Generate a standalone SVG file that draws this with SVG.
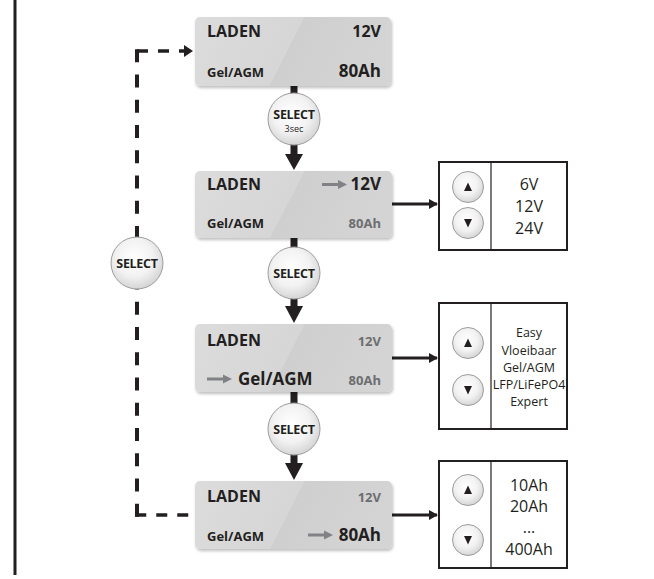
<svg xmlns="http://www.w3.org/2000/svg" width="654" height="579" viewBox="0 0 654 579">
<style>
  text { font-family: "Open Sans", "Liberation Sans", sans-serif; fill: #231f20; }
  .lcd { fill: url(#lcdGrad); filter: url(#sh); }
  .lab16 { font-size: 16px; font-weight: 700; }
  .big { font-size: 17px; font-weight: 700; }
  .sm { font-size: 13px; font-weight: 700; }
  .grey { fill: #6d6e70; }
  .end { text-anchor: end; }
  .btn { fill: url(#btnGrad); stroke: #9d9d9d; stroke-width: 1; }
  .sel { font-size: 12.5px; font-weight: 700; text-anchor: middle; letter-spacing: -0.3px; }
  .panel { fill: #ffffff; stroke: #231f20; stroke-width: 2; }
  .div { stroke: #231f20; stroke-width: 1.2; }
  .opt { font-size: 16px; text-anchor: middle; }
  .opt2 { font-size: 12.5px; text-anchor: middle; }
  .dash { fill: none; stroke: #231f20; stroke-width: 3.5; stroke-dasharray: 11 10; }
  .vd { fill: #231f20; }
  .thin { fill: none; stroke: #231f20; stroke-width: 3; }
  .garr { stroke: #808285; stroke-width: 3; fill: none; }
</style>
<defs>
  <linearGradient id="lcdGrad" x1="0" y1="0" x2="1" y2="0.177">
    <stop offset="0" stop-color="#dcdcdd"/>
    <stop offset="0.54" stop-color="#d6d6d7"/>
    <stop offset="0.541" stop-color="#cfcfd0"/>
    <stop offset="1" stop-color="#d4d4d5"/>
  </linearGradient>
  <radialGradient id="btnGrad" cx="0.45" cy="0.4" r="0.65">
    <stop offset="0" stop-color="#ffffff"/>
    <stop offset="0.55" stop-color="#f2f2f2"/>
    <stop offset="1" stop-color="#cfcfcf"/>
  </radialGradient>
  <filter id="sh" x="-5%" y="-10%" width="115%" height="130%">
    <feDropShadow dx="1" dy="2" stdDeviation="1.5" flood-color="#000" flood-opacity="0.25"/>
  </filter>
  <marker id="ah" markerWidth="10" markerHeight="10" refX="8" refY="5" orient="auto" markerUnits="userSpaceOnUse">
    <path d="M0,0 L9,5 L0,10 Z" fill="#231f20"/>
  </marker>
  <marker id="ahd" markerWidth="10" markerHeight="12" refX="2" refY="6" orient="auto" markerUnits="userSpaceOnUse">
    <path d="M0,0 L9,6 L0,12 Z" fill="#231f20"/>
  </marker>
</defs>

<rect x="13.5" y="0" width="3" height="575" fill="#231f20"/>

<g id="connectors">
  <!-- dashed loop -->
  <path class="dash" d="M137,51 H186" marker-end="url(#ahd)"/>
  <g class="vd">
    <rect x="135" y="49.25" width="4" height="13"/>
    <rect x="135" y="74.5" width="4" height="13"/>
    <rect x="135" y="99.75" width="4" height="13"/>
    <rect x="135" y="125" width="4" height="13"/>
    <rect x="135" y="150.25" width="4" height="13"/>
    <rect x="135" y="175.5" width="4" height="13"/>
    <rect x="135" y="200.75" width="4" height="13"/>
    <rect x="135" y="226" width="4" height="13"/>
    <rect x="135" y="289" width="4" height="0.5"/>
    <rect x="135" y="301.75" width="4" height="13"/>
    <rect x="135" y="327" width="4" height="13"/>
    <rect x="135" y="352.25" width="4" height="13"/>
    <rect x="135" y="377.5" width="4" height="13"/>
    <rect x="135" y="402.75" width="4" height="13"/>
    <rect x="135" y="428" width="4" height="13"/>
    <rect x="135" y="453.25" width="4" height="13"/>
    <rect x="135" y="478.5" width="4" height="13"/>
    <rect x="135" y="503.75" width="4" height="13"/>
  </g>
  <path class="dash" d="M135.25,515 H195"/>
  <!-- vertical thick connectors -->
  <rect x="290.5" y="86" width="7" height="8" fill="#231f20"/>
  <rect x="290.5" y="143" width="7" height="12" fill="#231f20"/>
  <path d="M285,154 H303 L294,170 Z" fill="#231f20"/>
  <rect x="290.5" y="238" width="7" height="10" fill="#231f20"/>
  <rect x="290.5" y="297" width="7" height="10" fill="#231f20"/>
  <path d="M285,306 H303 L294,323 Z" fill="#231f20"/>
  <rect x="290.5" y="392" width="7" height="12" fill="#231f20"/>
  <rect x="290.5" y="454" width="7" height="10" fill="#231f20"/>
  <path d="M285,463 H303 L294,480 Z" fill="#231f20"/>
  <!-- horizontal arrows to panels -->
  <path class="thin" d="M392,204 H437" marker-end="url(#ah)"/>
  <path class="thin" d="M392,358 H437" marker-end="url(#ah)"/>
  <path class="thin" d="M392,515 H437" marker-end="url(#ah)"/>
</g>

<g id="lcd1">
  <rect class="lcd" x="195" y="17" width="196" height="69" rx="5"/>
  <text class="lab16" x="207" y="37">LADEN</text>
  <text class="lab16 end" x="381" y="37">12V</text>
  <text class="sm" x="207" y="77">Gel/AGM</text>
  <text class="big end" x="381" y="77">80Ah</text>
</g>

<g id="select1">
  <circle class="btn" cx="294" cy="119" r="26"/>
  <text class="sel" x="294" y="118.5">SELECT</text>
  <text x="294" y="131.5" font-size="9" text-anchor="middle">3sec</text>
</g>

<g id="lcd2">
  <rect class="lcd" x="195" y="171" width="197" height="67" rx="5"/>
  <text class="lab16" x="207" y="190">LADEN</text>
  <path class="garr" d="M322,184.5 H340"/>
  <path d="M338,180 L347,184.5 L338,189 Z" fill="#808285"/>
  <text class="big end" x="381" y="190">12V</text>
  <text class="sm" x="207" y="228">Gel/AGM</text>
  <text class="sm end grey" x="381" y="228">80Ah</text>
</g>

<g id="select2">
  <circle class="btn" cx="294" cy="273" r="26"/>
  <text class="sel" x="294" y="277.5">SELECT</text>
</g>

<g id="lcd3">
  <rect class="lcd" x="195" y="324" width="197" height="68" rx="5"/>
  <text class="lab16" x="207" y="346" font-weight="600">LADEN</text>
  <text class="sm end grey" x="381" y="346">12V</text>
  <path class="garr" d="M207,379 H225"/>
  <path d="M223,374.5 L232,379 L223,383.5 Z" fill="#808285"/>
  <text class="big" x="238" y="385">Gel/AGM</text>
  <text class="sm end grey" x="381" y="385">80Ah</text>
</g>

<g id="select3">
  <circle class="btn" cx="294" cy="429" r="26"/>
  <text class="sel" x="294" y="433.5">SELECT</text>
</g>

<g id="lcd4">
  <rect class="lcd" x="195" y="481" width="197" height="68" rx="5"/>
  <text class="lab16" x="207" y="502" font-weight="600">LADEN</text>
  <text class="sm end grey" x="381" y="502">12V</text>
  <text class="sm" x="207" y="541">Gel/AGM</text>
  <path class="garr" d="M308,535 H326"/>
  <path d="M324,530.5 L333,535 L324,539.5 Z" fill="#808285"/>
  <text class="big end" x="381" y="541">80Ah</text>
</g>

<g id="select-loop">
  <circle class="btn" cx="137" cy="263" r="26"/>
  <text class="sel" x="137" y="267.5">SELECT</text>
</g>

<g id="panel-voltage">
  <rect class="panel" x="439" y="162" width="128" height="88"/>
  <line class="div" x1="491" y1="162" x2="491" y2="250"/>
  <circle class="btn" cx="468" cy="187" r="15.5"/>
  <path d="M464,191 L468,182.5 L472,191 Z" fill="#231f20"/>
  <circle class="btn" cx="468" cy="223" r="15.5"/>
  <path d="M464,219 L468,227.5 L472,219 Z" fill="#231f20"/>
  <text class="opt" x="529" y="190">6V</text>
  <text class="opt" x="529" y="212">12V</text>
  <text class="opt" x="529" y="234">24V</text>
</g>

<g id="panel-type">
  <rect class="panel" x="439" y="303" width="128" height="126"/>
  <line class="div" x1="491" y1="303" x2="491" y2="429"/>
  <circle class="btn" cx="468" cy="343" r="15.5"/>
  <path d="M464,347 L468,338.5 L472,347 Z" fill="#231f20"/>
  <circle class="btn" cx="468" cy="390" r="15.5"/>
  <path d="M464,386 L468,394.5 L472,386 Z" fill="#231f20"/>
  <text class="opt2" x="529" y="337">Easy</text>
  <text class="opt2" x="529" y="355">Vloeibaar</text>
  <text class="opt2" x="529" y="372">Gel/AGM</text>
  <text class="opt2" x="529" y="389">LFP/LiFePO4</text>
  <text class="opt2" x="529" y="406">Expert</text>
</g>

<g id="panel-capacity">
  <rect class="panel" x="439" y="461" width="128" height="107"/>
  <line class="div" x1="491" y1="461" x2="491" y2="568"/>
  <circle class="btn" cx="468" cy="490" r="15.5"/>
  <path d="M464,494 L468,485.5 L472,494 Z" fill="#231f20"/>
  <circle class="btn" cx="468" cy="540" r="15.5"/>
  <path d="M464,536 L468,544.5 L472,536 Z" fill="#231f20"/>
  <text class="opt" x="529" y="491">10Ah</text>
  <text class="opt" x="529" y="512">20Ah</text>
  <text class="opt" x="529" y="533">...</text>
  <text class="opt" x="529" y="555">400Ah</text>
</g>
</svg>
